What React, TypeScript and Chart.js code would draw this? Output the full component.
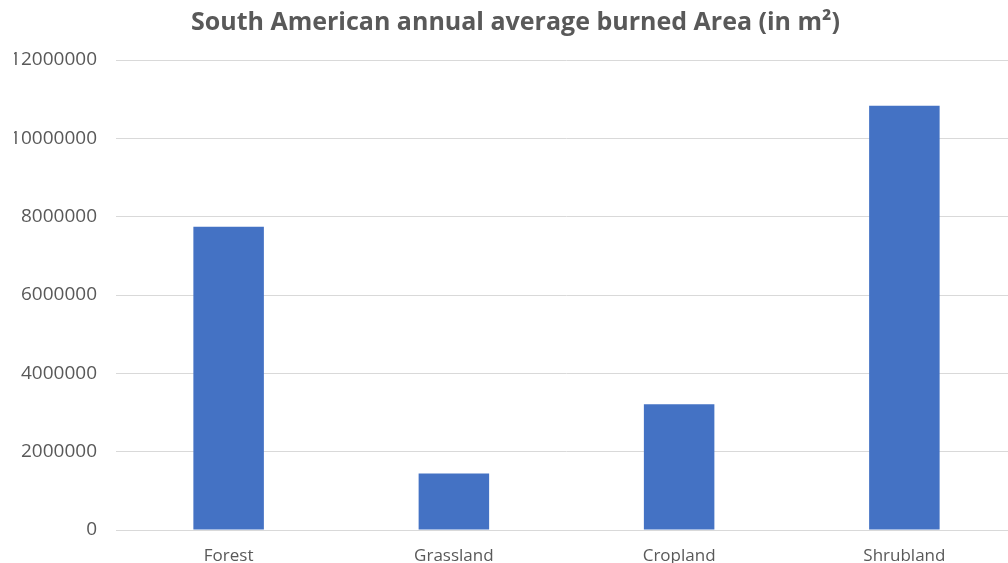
import React, { useEffect, useRef } from "react";
import { Chart, registerables } from "chart.js";

Chart.register(...registerables);

const categories = ["Forest", "Grassland", "Cropland", "Shrubland"];
const burnedArea = [7740000, 1440000, 3210000, 10830000];
const yMin = 0;
const yMax = 12000000;
const yStep = 2000000;
const titleText = "South American annual average burned Area (in m²)";

const FONT = "'Open Sans', 'Liberation Sans', sans-serif";
const GRAY = "#595959";

export default function App() {
  const ref = useRef<HTMLCanvasElement | null>(null);

  useEffect(() => {
    if (!ref.current) return;
    const chart = new Chart(ref.current, {
      type: "bar",
      data: {
        labels: categories,
        datasets: [
          {
            label: "Burned area",
            data: burnedArea,
            backgroundColor: "#4472C4",
            borderWidth: 0,
            categoryPercentage: 1,
            barPercentage: 0.313,
          },
        ],
      },
      options: {
        animation: false,
        responsive: false,
        maintainAspectRatio: false,
        layout: { padding: { left: 14, right: 0, top: 0, bottom: 0 } },
        plugins: {
          legend: { display: false },
          tooltip: { enabled: false },
          title: {
            display: true,
            text: titleText,
            color: GRAY,
            font: { family: FONT, size: 25, weight: "bold" },
            padding: { top: 8, bottom: 22 },
          },
        },
        scales: {
          x: {
            grid: { display: false, drawTicks: false },
            border: { display: true, color: "#d9d9d9", width: 1 },
            ticks: {
              color: GRAY,
              font: { family: FONT, size: 17 },
              padding: 16,
              maxRotation: 0,
            },
            afterFit: (scale: any) => {
              scale.height = 46;
            },
          },
          y: {
            min: yMin,
            max: yMax,
            grid: { color: "#d9d9d9", drawTicks: false, lineWidth: 1 },
            border: { display: false },
            ticks: {
              stepSize: yStep,
              color: GRAY,
              font: { family: FONT, size: 19 },
              padding: 19,
              callback: (v: any) => String(v),
            },
            afterFit: (scale: any) => {
              scale.width = 102;
            },
          },
        },
      },
    });
    return () => chart.destroy();
  }, []);

  return (
    <div
      style={{
        position: "fixed",
        left: 0,
        top: 0,
        width: 1008,
        height: 563,
        overflow: "hidden",
        background: "#fff",
      }}
    >
      <canvas ref={ref} width={1017} height={576} style={{ display: "block" }} />
    </div>
  );
}
